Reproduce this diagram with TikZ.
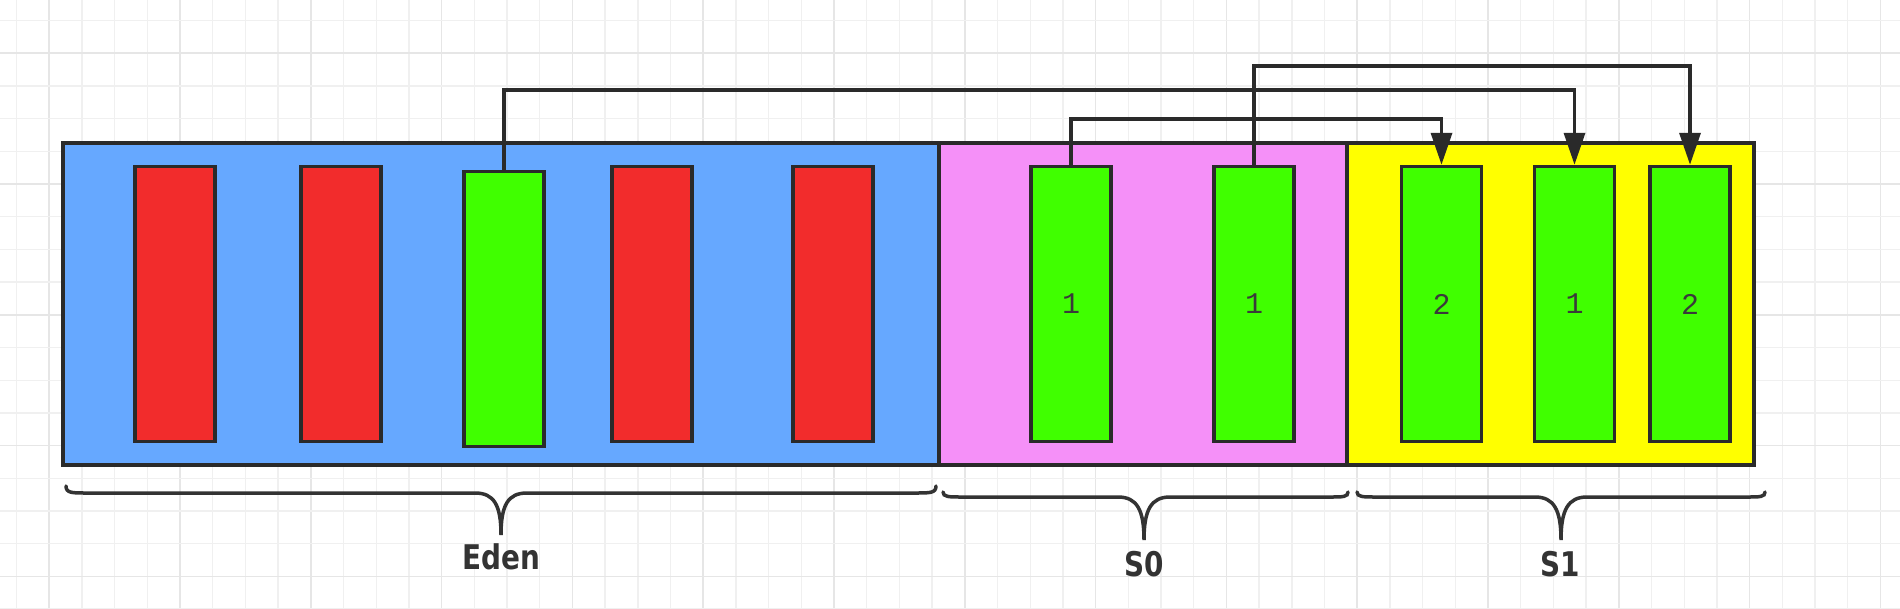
\documentclass[tikz,border=0pt]{standalone}
\usepackage{fontspec}
\setmainfont{DejaVu Sans}
\newfontfamily\labfont[FakeStretch=0.82]{DejaVu Sans}
\newfontfamily\numfont{Liberation Mono}
\usetikzlibrary{arrows.meta,calc}
\definecolor{edenblue}{HTML}{66A8FF}
\definecolor{pinkc}{HTML}{F590F8}
\definecolor{yellowc}{HTML}{FFFF00}
\definecolor{redc}{HTML}{F22C2C}
\definecolor{greenc}{HTML}{40FF00}
\definecolor{edgec}{HTML}{2A2A2A}
\definecolor{numc}{HTML}{3A3A3A}
\definecolor{labc}{HTML}{333333}
\definecolor{gridminor}{HTML}{F0F0F0}
\definecolor{gridmajor}{HTML}{E6E6E6}
\tikzset{
  region/.style={draw=edgec, line width=3.5pt, rectangle, inner sep=0pt},
  cell/.style={draw=edgec, line width=3.5pt, rectangle, inner sep=0pt,
    minimum width=80pt, minimum height=275pt,
    font=\numfont\fontsize{30}{34}\selectfont, text=numc},
  redcell/.style={cell, fill=redc},
  greencell/.style={cell, fill=greenc},
  conn/.style={draw=edgec, line width=3.5pt},
  arr/.style={conn, -{Triangle[length=32pt,width=21pt]}},
  bracestyle/.style={draw=labc, line width=3.5pt, line cap=round},
  lab/.style={font=\labfont\bfseries\fontsize{34}{40}\selectfont, text=labc}
}
\begin{document}
\begin{tikzpicture}[x=1pt,y=-1pt]
\useasboundingbox (0,0) rectangle (1900,608);
\fill[white] (0,0) rectangle (1900,608);
% grid
\foreach \k in {0,...,57}{
  \pgfmathtruncatemacro{\m}{mod(\k,4)}
  \ifnum\m=1
    \draw[gridmajor, line width=1.6pt] ({16.5+32.7*\k},0) -- ({16.5+32.7*\k},608);
  \else
    \draw[gridminor, line width=1.4pt] ({16.5+32.7*\k},0) -- ({16.5+32.7*\k},608);
  \fi
}
\foreach \k in {0,...,18}{
  \pgfmathtruncatemacro{\m}{mod(\k,4)}
  \ifnum\m=1
    \draw[gridmajor, line width=1.6pt] (0,{20.5+32.7*\k}) -- (1900,{20.5+32.7*\k});
  \else
    \draw[gridminor, line width=1.4pt] (0,{20.5+32.7*\k}) -- (1900,{20.5+32.7*\k});
  \fi
}
% regions
\node[region, fill=edenblue, minimum width=876pt, minimum height=322pt] (eden) at (501,304) {};
\node[region, fill=pinkc, minimum width=408pt, minimum height=322pt] (szero) at (1143,304) {};
\node[region, fill=yellowc, minimum width=407pt, minimum height=322pt] (sone) at (1550.5,304) {};
% eden cells
\node[redcell] (e1) at (175,304) {};
\node[redcell] (e2) at (341,304) {};
\node[greencell] (e3) at (504,309) {};
\node[redcell] (e4) at (652,304) {};
\node[redcell] (e5) at (833,304) {};
% S0 cells
\node[greencell] (a1) at (1071,304) {1};
\node[greencell] (a2) at (1254,304) {1};
% S1 cells
\node[greencell] (b1) at (1441.5,304) {2};
\node[greencell] (b2) at (1574.5,304) {1};
\node[greencell] (b3) at (1690,304) {2};
% connectors
\coordinate (hmid) at (0,90);
\coordinate (hlow) at (0,119);
\coordinate (htop) at (0,66);
\draw[arr] (e3.north) -- (e3.north |- hmid) -| (b2.north);
\draw[arr] (a1.north) -- (a1.north |- hlow) -| (b1.north);
\draw[arr] (a2.north) -- (a2.north |- htop) -| (b3.north);
% braces
\draw[bracestyle] (66,486) .. controls (66,493) and (72,493) .. (86,493)
  -- (475,493) .. controls (494,493) and (501,505) .. (501,535)
  .. controls (501,505) and (508,493) .. (527,493)
  -- (916,493) .. controls (930,493) and (936,493) .. (936,486);
\draw[bracestyle] (943,492) .. controls (943,497) and (949,497) .. (962,497)
  -- (1118,497) .. controls (1137,497) and (1144,510) .. (1144,540)
  .. controls (1144,510) and (1151,497) .. (1170,497)
  -- (1330,497) .. controls (1343,497) and (1348,497) .. (1348,492);
\draw[bracestyle] (1357,492) .. controls (1357,497) and (1363,497) .. (1376,497)
  -- (1535,497) .. controls (1554,497) and (1561,510) .. (1561,540)
  .. controls (1561,510) and (1568,497) .. (1587,497)
  -- (1747,497) .. controls (1760,497) and (1765,497) .. (1765,492);
% labels
\node[lab] (edenlab) at (501,557) {Eden};
\node[lab] (s0lab) at (1144,564) {S0};
\node[lab] (s1lab) at (1560,564) {S1};
\end{tikzpicture}
\end{document}
